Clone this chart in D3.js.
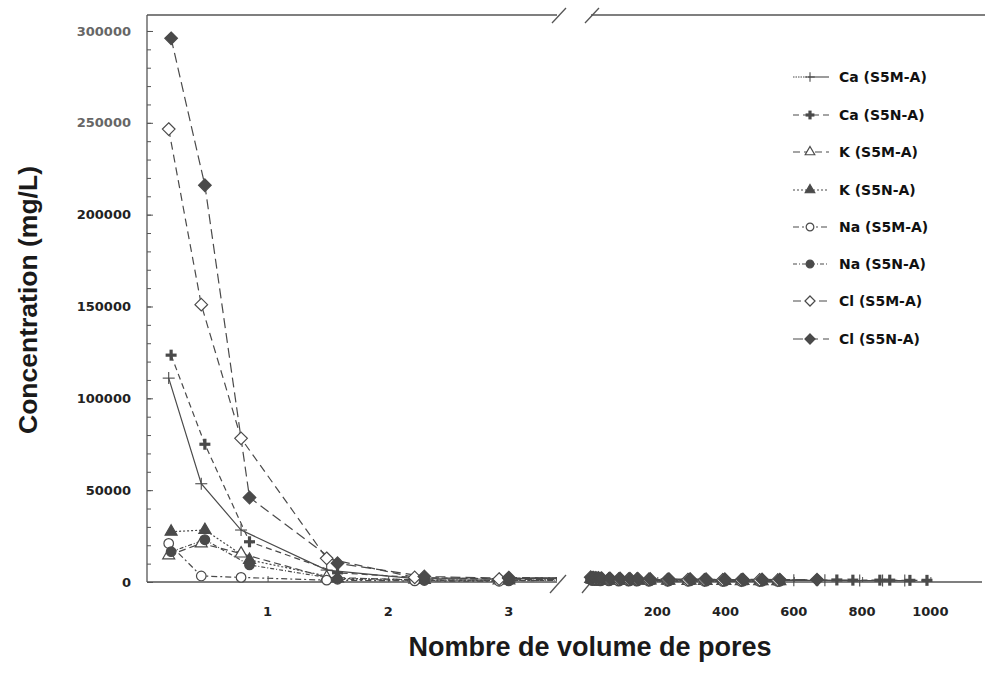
<!DOCTYPE html>
<html>
<head>
<meta charset="utf-8">
<script src="https://cdn.jsdelivr.net/npm/d3@7"></script>
<style>
  body { margin: 0; background: #fff; }
  text { font-family: "Liberation Sans", Arial, sans-serif; font-weight: bold; }
  .wide { font-family: "DejaVu Sans", sans-serif; }
</style>
</head>
<body>
<svg id="chart" width="987" height="673"></svg>
<script>
// Pore volumes sampled for each column (low range, then long-term range)
const poreVolLowS5M  = [0.18, 0.45, 0.78, 1.49, 2.22, 2.92];
const poreVolLowS5N  = [0.20, 0.48, 0.85, 1.58, 2.30, 3.00];
const poreVolHighS5M = [3, 9, 16, 24, 33, 58, 87, 116, 140, 175, 230, 290, 338, 392, 446, 500, 553, 600, 691, 793, 860, 925];
const poreVolHighS5N = [5, 12, 20, 28, 37, 61, 91, 120, 143, 179, 234, 296, 343, 398, 451, 507, 559, 668, 726, 773, 852, 881, 940, 990];

// Concentrations (mg/L)
const caS5M = [111000, 53500, 28300, 6500, 1800, 1500,
  2000, 1800, 1700, 1600, 1500, 1500, 1400, 1300, 1300, 1200, 1200, 1100, 1100, 1000, 1000, 1000, 900, 900, 900, 800, 800, 800];
const caS5N = [123500, 75000, 21900, 5000, 2200, 1800,
  2300, 2100, 2000, 1900, 1800, 1700, 1700, 1600, 1500, 1500, 1400, 1400, 1300, 1300, 1200, 1200, 1200, 1100, 1100, 1000, 1000, 1000, 900, 900];
const kS5M = [14500, 21000, 15500, 2500, 1200, 900,
  1500, 1300, 1200, 1100, 1000, 900, 900, 800, 800, 700, 700, 600, 600, 600, 500, 500, 500];
const kS5N = [27400, 28300, 12000, 2000, 1100, 800,
  1600, 1400, 1300, 1200, 1100, 1000, 900, 900, 800, 800, 700, 700, 600, 600, 600, 500, 500];
const naS5M = [21000, 3300, 2500, 1000, 600, 400,
  900, 800, 700, 700, 600, 600, 500, 500, 500, 400, 400, 400, 400, 300, 300, 300, 300];
const naS5N = [16500, 23000, 9300, 1500, 800, 600,
  1200, 1100, 1000, 900, 900, 800, 800, 700, 700, 600, 600, 600, 500, 500, 500, 400, 400];
const clS5M = [246600, 151000, 78200, 12900, 2500, 1600,
  2400, 2200, 2000, 1900, 1800, 1700, 1600, 1500, 1500, 1400, 1300, 1300, 1200, 1200, 1100, 1100, 1000];
const clS5N = [296000, 216000, 46000, 10200, 3000, 2000,
  2600, 2400, 2300, 2200, 2100, 2000, 1900, 1800, 1800, 1700, 1600, 1600, 1500, 1500, 1400, 1400, 1300, 1300];

const seriesLabels = ["Ca (S5M-A)", "Ca (S5N-A)", "K (S5M-A)", "K (S5N-A)",
                      "Na (S5M-A)", "Na (S5N-A)", "Cl (S5M-A)", "Cl (S5N-A)"];
const yTickValues = [0, 50000, 100000, 150000, 200000, 250000, 300000];
const xTickLow = [1, 2, 3];
const xTickHigh = [200, 400, 600, 800, 1000];

const poreS5M = poreVolLowS5M.concat(poreVolHighS5M);
const poreS5N = poreVolLowS5N.concat(poreVolHighS5N);

const series = [
  { label: seriesLabels[0], x: poreS5M, y: caS5M, sym: "plus",     fill: false, dash: null },
  { label: seriesLabels[1], x: poreS5N, y: caS5N, sym: "plusBold", fill: true,  dash: "6,4" },
  { label: seriesLabels[2], x: poreS5M, y: kS5M,  sym: "triangle", fill: false, dash: "7,4" },
  { label: seriesLabels[3], x: poreS5N, y: kS5N,  sym: "triangle", fill: true,  dash: "2,2" },
  { label: seriesLabels[4], x: poreS5M, y: naS5M, sym: "circle",   fill: false, dash: "6,3,2,3" },
  { label: seriesLabels[5], x: poreS5N, y: naS5N, sym: "circle",   fill: true,  dash: "4,2,1,2" },
  { label: seriesLabels[6], x: poreS5M, y: clS5M, sym: "diamond",  fill: false, dash: "8,5" },
  { label: seriesLabels[7], x: poreS5N, y: clS5N, sym: "diamond",  fill: true,  dash: "10,5" }
];

const ink = "#4a4a4a";
const svg = d3.select("#chart");

// Broken x axis: a linear piece for the first pore volumes and a compressed one for the long run
const xLow  = d3.scaleLinear().domain([0, 3.4]).range([147, 557]);
const xHigh = d3.scaleLinear().domain([0, 1160]).range([589, 985]);
const xPos = v => v <= 3.4 ? xLow(v) : xHigh(v);
const y = d3.scaleLinear().domain([0, 308700]).range([582, 15]);

// Clip regions for the two panels
const defs = svg.append("defs");
defs.append("clipPath").attr("id", "clipLow").append("rect")
  .attr("x", 147).attr("y", 0).attr("width", 557 - 147).attr("height", 600);
defs.append("clipPath").attr("id", "clipHigh").append("rect")
  .attr("x", 587).attr("y", 0).attr("width", 985 - 587).attr("height", 600);

// Y axis with inward ticks
const yAxis = d3.axisRight(y).tickValues(yTickValues).tickSize(6).tickFormat("");
const yMinor = d3.axisRight(y).tickValues(d3.range(0, 300001, 10000)).tickSize(4).tickFormat("");
svg.append("g").attr("transform", "translate(147,0)").call(yMinor)
  .call(g => g.select(".domain").remove())
  .selectAll("line").attr("stroke", "#555");
svg.append("g").attr("transform", "translate(147,0)").call(yAxis)
  .call(g => g.select(".domain").remove())
  .selectAll("line").attr("stroke", "#555");
svg.append("line").attr("x1", 147).attr("x2", 147).attr("y1", 15).attr("y2", 582)
  .attr("stroke", "#555").attr("stroke-width", 1.3);

svg.append("g").selectAll("text").data(yTickValues).join("text")
  .attr("class", "wide")
  .attr("x", 131).attr("y", d => y(d)).attr("dy", "0.36em")
  .attr("text-anchor", "end").attr("font-size", 13)
  .attr("fill", d => d >= 250000 ? "#666" : "#222")
  .text(d => d);

// X axis segments
const xAxisLow = d3.axisTop(xLow).tickValues(xTickLow).tickSize(6).tickFormat("");
svg.append("g").attr("transform", "translate(0,582)").call(xAxisLow)
  .call(g => g.select(".domain").remove()).selectAll("line").attr("stroke", "#555");
const xAxisHigh = d3.axisTop(xHigh).tickValues(xTickHigh).tickSize(5).tickFormat("");
svg.append("g").attr("transform", "translate(0,582)").call(xAxisHigh)
  .call(g => g.select(".domain").remove()).selectAll("line").attr("stroke", "#555");

const frame = svg.append("g").attr("stroke", "#555").attr("stroke-width", 1.3);
frame.append("line").attr("x1", 147).attr("x2", 557).attr("y1", 582).attr("y2", 582);
frame.append("line").attr("x1", 587).attr("x2", 982).attr("y1", 582).attr("y2", 582);
frame.append("line").attr("x1", 147).attr("x2", 557).attr("y1", 15).attr("y2", 15);
frame.append("line").attr("x1", 591).attr("x2", 985).attr("y1", 15).attr("y2", 15);
// Break marks
frame.append("line").attr("x1", 550).attr("y1", 593).attr("x2", 566).attr("y2", 575);
frame.append("line").attr("x1", 582).attr("y1", 593).attr("x2", 592).attr("y2", 581);
frame.append("line").attr("x1", 552).attr("y1", 23).attr("x2", 566).attr("y2", 8);
frame.append("line").attr("x1", 585).attr("y1", 23).attr("x2", 599).attr("y2", 8);

svg.append("g").selectAll("text").data(xTickLow).join("text")
  .attr("class", "wide")
  .attr("x", d => xLow(d)).attr("y", 616).attr("text-anchor", "middle")
  .attr("font-size", 13).attr("fill", "#222").text(d => d);
svg.append("g").selectAll("text").data(xTickHigh).join("text")
  .attr("class", "wide")
  .attr("x", d => xHigh(d)).attr("y", 616).attr("text-anchor", "middle")
  .attr("font-size", 13).attr("fill", "#222").text(d => d);

// Axis titles
svg.append("text").attr("transform", "translate(37,300) rotate(-90)")
  .attr("text-anchor", "middle").attr("font-size", 26.5).attr("fill", "#1a1a1a")
  .text("Concentration (mg/L)");
svg.append("text").attr("x", 590).attr("y", 656).attr("text-anchor", "middle")
  .attr("font-size", 27).attr("fill", "#1a1a1a").text("Nombre de volume de pores");

// Marker drawing
function drawMarker(g, s, size) {
  const sc = size / 10;
  if (s.sym === "plus" || s.sym === "plusBold") {
    const r = (s.sym === "plus" ? 6 : 5.5) * sc;
    const w = s.sym === "plus" ? 1.1 : 3.2;
    g.append("line").attr("x1", -r).attr("x2", r).attr("y1", 0).attr("y2", 0)
      .attr("stroke", ink).attr("stroke-width", w);
    g.append("line").attr("y1", -r).attr("y2", r).attr("x1", 0).attr("x2", 0)
      .attr("stroke", ink).attr("stroke-width", w);
    return;
  }
  let d;
  if (s.sym === "diamond") {
    const r = 6.3 * sc;
    d = `M0,${-r}L${r},0L0,${r}L${-r},0Z`;
  } else {
    const type = s.sym === "triangle" ? d3.symbolTriangle : d3.symbolCircle;
    const area = (s.sym === "triangle" ? 62 : 72) * sc * sc;
    d = d3.symbol().type(type).size(area)();
  }
  g.append("path").attr("d", d)
    .attr("fill", s.fill ? ink : "#fff").attr("stroke", ink).attr("stroke-width", 1.2);
}

const line = d3.line().x(d => xPos(d[0])).y(d => y(d[1]));

["clipLow", "clipHigh"].forEach(clip => {
  const panel = svg.append("g").attr("clip-path", `url(#${clip})`);
  series.forEach(s => {
    const pts = s.y.map((v, i) => [s.x[i], v]);
    panel.append("path").datum(pts).attr("d", line)
      .attr("fill", "none").attr("stroke", ink).attr("stroke-width", 1.2)
      .attr("stroke-dasharray", s.dash);
  });
});

series.forEach(s => {
  const pts = s.y.map((v, i) => [s.x[i], v]);
  pts.forEach(p => {
    const g = svg.append("g").attr("transform", `translate(${xPos(p[0])},${y(p[1])})`);
    drawMarker(g, s, 10);
  });
});

// Legend
const legendY = [77, 115, 152, 190, 227, 264, 301, 339];
series.forEach((s, i) => {
  const g = svg.append("g").attr("transform", `translate(0,${legendY[i]})`);
  if (s.dash) {
    g.append("line").attr("x1", 793).attr("x2", 829).attr("y1", 0).attr("y2", 0)
      .attr("stroke", ink).attr("stroke-width", 1.1).attr("stroke-dasharray", s.dash);
  } else {
    g.append("line").attr("x1", 793).attr("x2", 808).attr("y1", 0).attr("y2", 0)
      .attr("stroke", ink).attr("stroke-width", 1).attr("stroke-dasharray", "1.5,1");
    g.append("line").attr("x1", 808).attr("x2", 829).attr("y1", 0).attr("y2", 0)
      .attr("stroke", ink).attr("stroke-width", 1.1);
  }
  const m = g.append("g").attr("transform", "translate(810,0)");
  drawMarker(m, s, 8);
  g.append("text").attr("class", "wide").attr("x", 839).attr("y", 0).attr("dy", "0.36em")
    .attr("font-size", 14).attr("fill", "#111").text(s.label);
});
</script>
</body>
</html>
